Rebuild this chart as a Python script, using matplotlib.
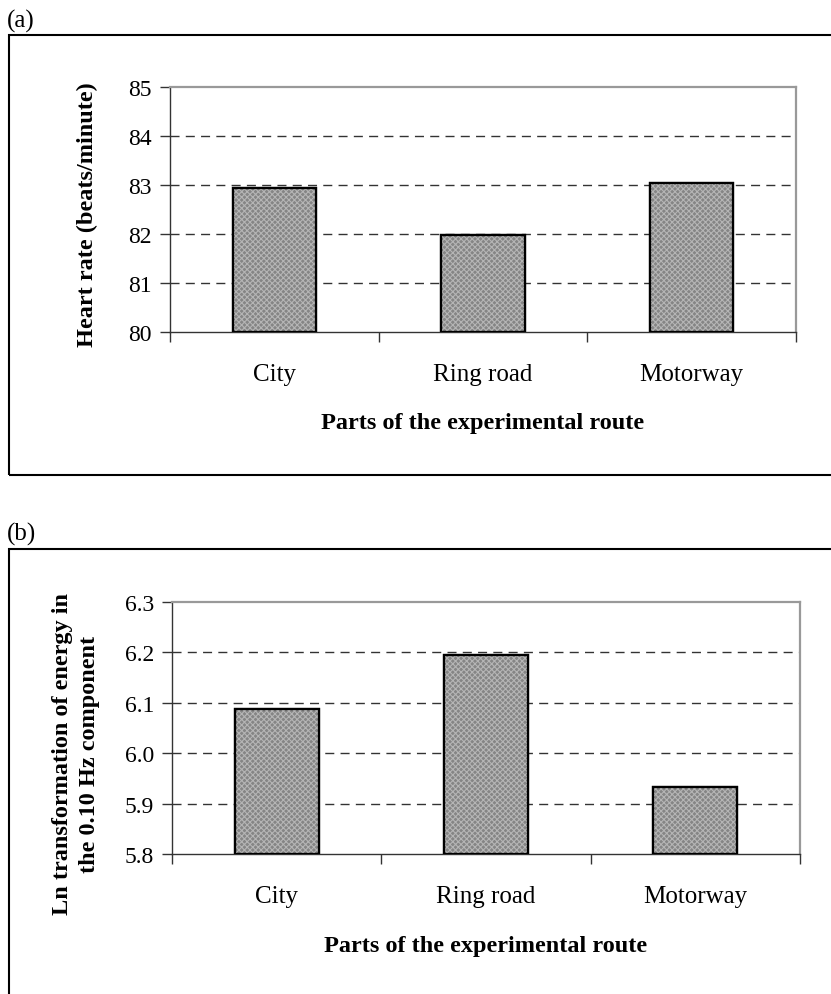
import matplotlib
matplotlib.use("Agg")
import matplotlib.pyplot as plt
from matplotlib.patches import Rectangle
import numpy as np

plt.rcParams['font.family'] = ['Liberation Serif', 'DejaVu Serif']
plt.rcParams['hatch.linewidth'] = 0.8

# data
routes = ['City', 'Ring road', 'Motorway']
heart_rate = [82.93, 81.97, 83.05]
ln_energy = [6.087, 6.195, 5.933]

hr_ticks = [80, 81, 82, 83, 84, 85]
ln_ticks = [5.8, 5.9, 6.0, 6.1, 6.2, 6.3]
ln_labels = ['5.8', '5.9', '6.0', '6.1', '6.2', '6.3']

W, H = 831, 995
fig = plt.figure(figsize=(W / 100, H / 100), dpi=100)


def fx(px):
    return px / W


def fy(py):
    return 1 - py / H


def draw_panel(rect, values, ticks, ticklabels):
    ax = fig.add_axes(rect)
    x = np.arange(1, len(routes) + 1)
    ax.set_xlim(0.5, len(routes) + 0.5)
    ax.set_ylim(ticks[0], ticks[-1])

    # dashed gridlines
    for t in ticks[1:-1]:
        ax.axhline(t, color='#333333', lw=1.0, ls=(0, (6.5, 4.5)), zorder=1)

    base = ticks[0]
    heights = [v - base for v in values]
    ax.bar(x, heights, bottom=base, width=0.4, color='#858585',
           edgecolor='black', linewidth=1.6, zorder=2)
    ax.bar(x, heights, bottom=base, width=0.4, color='none',
           edgecolor='#b5b5b5', hatch='xxxxxx', linewidth=0, zorder=3)
    ax.bar(x, heights, bottom=base, width=0.4, color='none',
           edgecolor='black', linewidth=1.6, zorder=4)

    ax.set_yticks(ticks)
    ax.set_yticklabels(ticklabels)
    ax.set_xticks(np.arange(0.5, len(routes) + 1, 1.0))
    ax.set_xticklabels([])
    ax.set_xticks(x, minor=True)
    ax.set_xticklabels(routes, minor=True)
    ax.tick_params(axis='x', which='major', length=7, width=1, color='#333333', direction='out')
    ax.tick_params(axis='x', which='minor', length=0, pad=22, labelsize=18)
    ax.tick_params(axis='y', length=7, width=1, color='#333333', direction='out',
                   pad=6, labelsize=17)

    for s in ['left', 'bottom']:
        ax.spines[s].set_color('#333333')
        ax.spines[s].set_linewidth(1.0)
    for s in ['top', 'right']:
        ax.spines[s].set_color('#999999')
        ax.spines[s].set_linewidth(1.6)
    return ax


# panel (a)
ax1 = draw_panel([fx(170), fy(333), fx(796 - 170), fy(88) - fy(333)],
                 heart_rate, hr_ticks, [str(t) for t in hr_ticks])
# panel (b)
ax2 = draw_panel([fx(172), fy(855), fx(800 - 172), fy(603) - fy(855)],
                 ln_energy, ln_ticks, ln_labels)

# axis titles
fig.text(fx(483), fy(424), 'Parts of the experimental route', fontsize=17.5,
         fontweight='bold', ha='center', va='center')
fig.text(fx(486), fy(947), 'Parts of the experimental route', fontsize=17.5,
         fontweight='bold', ha='center', va='center')
fig.text(fx(87), fy(215), 'Heart rate (beats/minute)', fontsize=17.5,
         fontweight='bold', ha='center', va='center', rotation=90)
fig.text(fx(76), fy(754), 'Ln transformation of energy in\nthe 0.10 Hz component',
         fontsize=17.5, fontweight='bold', ha='center', va='center',
         rotation=90, multialignment='center', linespacing=1.4)

# outer frames
fig.patches.append(Rectangle((fx(9), fy(476)), fx(840 - 9), fy(36) - fy(476),
                             transform=fig.transFigure, fill=False,
                             edgecolor='black', linewidth=1.5))
fig.patches.append(Rectangle((fx(9), fy(1005)), fx(840 - 9), fy(550) - fy(1005),
                             transform=fig.transFigure, fill=False,
                             edgecolor='black', linewidth=1.5))

fig.text(fx(7), fy(21), '(a)', fontsize=18, va='center', ha='left')
fig.text(fx(7), fy(534), '(b)', fontsize=18, va='center', ha='left')

fig.savefig('out.png', dpi=100)
